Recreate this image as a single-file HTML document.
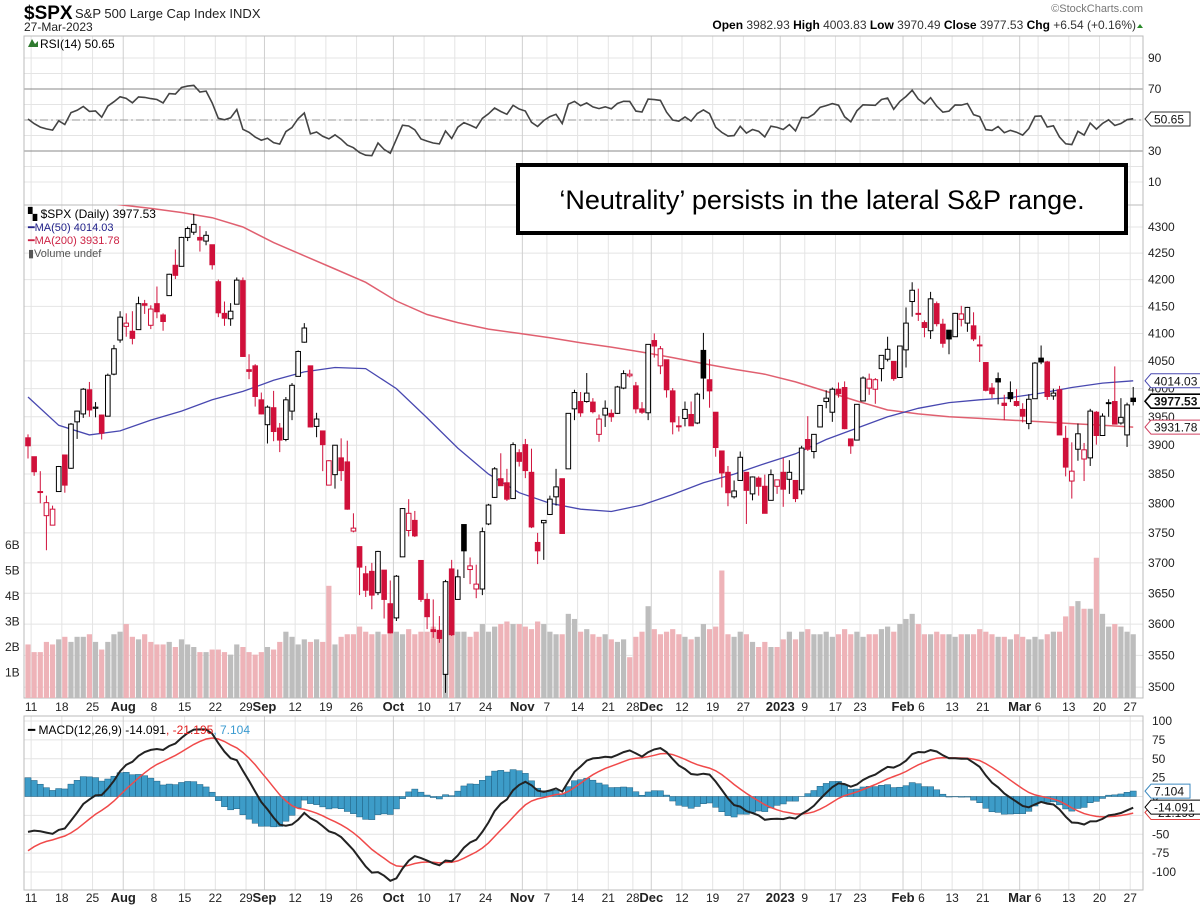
<!DOCTYPE html>
<html><head><meta charset="utf-8"><style>
body{margin:0;background:#fff;}
svg{display:block;font-family:"Liberation Sans",Arial,sans-serif;}
</style></head><body>
<svg id="chart" width="1200" height="911" viewBox="0 0 1200 911" xmlns="http://www.w3.org/2000/svg">
<defs>
<clipPath id="cpRsi"><rect x="24" y="36" width="1119" height="169"/></clipPath>
<clipPath id="cpPrice"><rect x="24" y="205" width="1119" height="493"/></clipPath>
<clipPath id="cpMacd"><rect x="24" y="716" width="1119" height="174"/></clipPath>
</defs>
<g id="grid"></g>
<g id="vol" clip-path="url(#cpPrice)"></g>
<g id="ma" clip-path="url(#cpPrice)"></g>
<g id="candles" clip-path="url(#cpPrice)"></g>
<g id="rsi" clip-path="url(#cpRsi)"></g>
<g id="macd" clip-path="url(#cpMacd)"></g>
<g id="axes"></g>

<text x="24" y="19" font-size="19" font-weight="bold">$SPX</text>
<text x="75" y="18" font-size="13" fill="#222">S&amp;P 500 Large Cap Index  INDX</text>
<text x="24" y="31" font-size="12" fill="#222">27-Mar-2023</text>
<text x="1143" y="12" font-size="11" fill="#777" text-anchor="end">©StockCharts.com</text>
<text x="1136" y="29" font-size="12" text-anchor="end" fill="#333"><tspan font-weight="bold" fill="#000">Open</tspan> 3982.93  <tspan font-weight="bold" fill="#000">High</tspan> 4003.83  <tspan font-weight="bold" fill="#000">Low</tspan> 3970.49  <tspan font-weight="bold" fill="#000">Close</tspan> 3977.53  <tspan font-weight="bold" fill="#000">Chg</tspan> +6.54 (+0.16%)</text>
<polygon points="1137,28 1143,28 1140,24" fill="#2a8a2a"/>

<text x="40" y="48" font-size="12">RSI(14) 50.65</text>
<polygon points="28,47 32,39 35,44 38,41 38,47" fill="#2f7a2f"/>
<text x="28" y="218" font-size="12">▚ $SPX (Daily) 3977.53</text>
<text x="28" y="231" font-size="11" fill="#22228a">━MA(50) 4014.03</text>
<text x="28" y="244" font-size="11" fill="#cc2244">━MA(200) 3931.78</text>
<text x="28" y="257" font-size="11" fill="#555">▮Volume undef</text>
<text x="28" y="734" font-size="12">━ MACD(12,26,9) -14.091<tspan fill="#e02020">, -21.195</tspan><tspan fill="#3a9ad0">, 7.104</tspan></text>

<rect x="518" y="165" width="608" height="68" fill="#fff" stroke="#000" stroke-width="4"/>
<text x="822" y="209" font-size="27" text-anchor="middle">‘Neutrality’ persists in the lateral S&amp;P range.</text>
</svg>
<script>
// ---------- data ----------
const opens = [3913,3880,3820,3779,3763,3820,3883,3860,3941,3955,3998,3965,3953,3951,4026,4088,
4113,4104,4107,4155,4115,4155,4134,4170,4227,4225,4280,4290,4280,4273,4266,4196,4137,4127,4154,4198,4034,4041,3980,
3936,3966,3930,3910,3960,4022,4084,4041,3933,3925,3831,3849,3878,3871,3753,3727,3682,3686,3651,3688,3633,
3610,3710,3754,3771,3704,3640,3591,3590,3520,3690,3640,3764,3689,3657,3657,3765,3810,3842,3835,3808,3887,
3901,3853,3734,3767,3781,3811,3842,3859,3964,3977,3977,3976,3919,3953,3956,3956,4001,4023,4005,3964,3957,
4087,4041,4052,3996,3934,3947,3954,3939,4069,4016,3958,3890,3853,3811,3839,3853,3816,3843,3829,3805,3829,
3853,3841,3839,3823,3910,3889,3932,3977,3958,3999,4002,3911,3909,3978,4001,3999,4036,4053,4049,4020,
4070,4159,4137,4120,4105,4155,4117,4106,4094,4126,4119,4114,4078,4047,4001,4018,3974,3993,3977,
3963,3938,3982,4055,4048,3987,3998,3912,3838,3893,3876,3878,3958,3917,3975,3977,3939,3918,3983];
const highs = [3919,3880,3855,3813,3796,3864,3883,3939,3961,4001,4012,3976,3954,4027,4079,4141,
4137,4141,4168,4162,4152,4187,4137,4211,4257,4281,4301,4325,4302,4292,4266,4200,4159,4156,4204,4204,4062,4044,3993,
3970,3996,3939,3985,4010,4069,4119,4041,3957,3925,3874,3900,3912,3908,3783,3727,3695,3700,3720,3688,3671,
3680,3792,3807,3787,3704,3650,3640,3613,3672,3705,3689,3764,3709,3697,3759,3799,3862,3886,3859,3905,3893,
3911,3894,3750,3771,3813,3859,3842,3956,3998,3994,4028,3983,3954,3979,3963,4005,4033,4034,4012,3976,4080,
4100,4077,4052,4001,3951,3977,3977,3993,4101,4053,3958,3890,3864,3839,3889,3853,3846,3846,3849,3858,3839,
3878,3874,3839,3899,3951,3919,3970,3997,4002,4011,4013,3911,3972,4022,4027,4019,4060,4094,4049,4077,
4148,4195,4183,4124,4177,4159,4127,4102,4138,4151,4149,4139,4096,4047,4010,4029,3989,4013,3999,
3974,3990,4048,4078,4050,4000,4005,3934,3905,3938,3904,3964,3960,3956,3981,4040,3983,3975,4003];
const lows = [3877,3847,3800,3721,3764,3820,3818,3859,3911,3948,3950,3949,3910,3951,4024,4083,
4094,4080,4107,4136,4108,4128,4105,4170,4201,4225,4273,4285,4253,4265,4219,4130,4114,4114,4154,4057,4017,3968,3954,
3903,3907,3888,3907,3944,4022,4083,3932,3914,3855,3838,3825,3838,3789,3751,3647,3644,3624,3647,3609,3585,
3605,3710,3744,3743,3636,3592,3578,3570,3491,3581,3640,3675,3665,3642,3647,3763,3809,3830,3804,3809,3863,
3843,3758,3698,3705,3780,3796,3749,3859,3944,3950,3975,3956,3906,3932,3941,3955,3999,4020,3956,3955,3944,
4056,4026,3984,3919,3924,3933,3934,3937,3981,3966,3880,3827,3795,3808,3839,3765,3805,3813,3783,3805,3816,
3794,3816,3802,3815,3890,3877,3932,3965,3941,3984,3928,3885,3909,3978,3989,3973,4013,4049,4014,4020,
4038,4131,4123,4093,4090,4113,4074,4062,4094,4113,4103,4086,4048,3995,3983,3972,3944,3976,3968,
3940,3928,3982,4044,3980,3980,3919,3846,3808,3873,3838,3864,3901,3917,3950,3937,3936,3897,3970];
const closes = [3899,3854,3819,3801,3790,3863,3831,3937,3960,3999,3962,3967,3921,4024,4072,4130,
4119,4091,4155,4152,4145,4140,4122,4210,4208,4280,4297,4305,4275,4284,4228,4138,4128,4141,4199,4058,4031,3986,3955,
3967,3924,3909,3980,4006,4067,4110,3932,3946,3901,3873,3900,3856,3790,3758,3693,3655,3647,3719,3640,3586,
3678,3791,3783,3745,3640,3612,3588,3577,3669,3583,3677,3720,3695,3665,3752,3797,3859,3830,3807,3901,3872,
3856,3760,3720,3771,3807,3828,3749,3956,3993,3957,3992,3959,3946,3965,3950,4003,4027,4026,3964,3958,4080,
4077,4072,3998,3941,3933,3963,3934,3990,4019,3996,3896,3852,3818,3821,3879,3822,3845,3829,3783,3849,3840,
3824,3853,3808,3895,3893,3919,3970,3983,3999,3991,3929,3899,3972,4019,4017,4016,4060,4071,4018,4077,
4119,4180,4136,4111,4164,4118,4082,4090,4137,4136,4148,4090,4079,3997,3991,4012,3970,3982,3970,
3951,3981,4046,4048,3986,3992,3918,3862,3855,3920,3892,3960,3917,3951,3975,3937,3949,3971,3977];
const volumesB = [2.1,1.8,1.8,2.2,2.1,2.3,2.4,2.2,2.4,2.4,2.5,2.2,1.9,2.2,2.5,2.6,
2.9,2.4,2.3,2.5,2.2,2.1,2.1,2.2,2.0,2.3,2.1,2.0,1.8,1.8,1.9,1.9,1.8,1.7,2.1,2.0,1.8,1.7,1.8,
2.0,1.9,2.2,2.6,2.4,2.1,2.3,2.2,2.3,2.2,4.4,2.1,2.4,2.5,2.5,2.8,2.6,2.5,2.6,2.5,2.9,
2.6,2.5,2.7,2.5,2.6,2.6,2.8,2.5,3.2,2.5,2.6,2.6,2.4,2.6,2.9,2.6,2.8,2.9,3.0,2.9,2.9,
2.8,2.7,3.0,2.9,2.6,2.5,2.5,3.3,3.1,2.6,2.7,2.5,2.4,2.5,2.3,2.2,2.3,1.6,2.4,2.6,3.6,
2.7,2.5,2.6,2.7,2.5,2.4,2.3,2.4,2.9,2.7,2.8,5.0,2.5,2.4,2.6,2.5,2.2,2.0,2.2,2.0,2.0,
2.3,2.6,2.3,2.6,2.7,2.5,2.5,2.6,2.4,2.5,2.7,2.5,2.6,2.4,2.5,2.5,2.7,2.8,2.6,2.9,
3.1,3.3,2.9,2.5,2.5,2.6,2.5,2.5,2.4,2.5,2.5,2.5,2.7,2.6,2.5,2.4,2.4,2.3,2.5,
2.4,2.3,2.4,2.3,2.5,2.6,2.6,3.2,3.6,3.8,3.5,3.5,5.5,3.3,2.8,2.9,2.8,2.6,2.5];
// moving averages sampled every 5 bars
const ma50 = [3985,3935,3918,3925,3944,3960,3980,3995,4015,4030,4038,4036,4000,3948,3895,3850,3818,3800,3790,3786,3797,3815,3835,3850,3868,3885,3910,3930,3950,3965,3975,3980,3984,3992,4002,4010,4014.03];
const ma200 = [4370,4360,4352,4343,4336,4328,4318,4300,4270,4245,4220,4195,4160,4135,4120,4108,4100,4092,4083,4075,4066,4056,4045,4035,4026,4012,3995,3978,3962,3955,3950,3947,3944,3941,3938,3935,3931.78];
// indicator seeds (state before first bar)
const prevClose = 3902;
const rsiSeedGain = 30, rsiSeedLoss = 29;
const emaSeed12 = 3872, emaSeed26 = 3925, signalSeed = -78;
// axis ticks / labels
const xLabels = ["11","18","25","Aug","8","15","22","29","Sep","12","19","26","Oct","10","17","24","Nov","7","14","21","28","Dec","12","19","27","2023","9","17","23","Feb","6","13","21","Mar","6","13","20","27"];
const xLabelBars = [1,6,11,16,21,26,31,36,39,44,49,54,60,65,70,75,81,85,90,95,99,102,107,112,117,123,127,132,136,143,146,151,156,162,165,170,175,180];
const priceTicks = [4300,4250,4200,4150,4100,4050,4000,3950,3900,3850,3800,3750,3700,3650,3600,3550,3500];
const volTicks = [1,2,3,4,5,6];
const rsiTicks = [90,70,30,10];
const macdTicks = [100,75,50,25,0,-25,-50,-75,-100];

// ---------- scales ----------
const L=24, R=1143;
const xB = i => 28 + i*6.14;
const yP = p => 227 + 2235*Math.log(4300/p);
const yV = v => 698 - v*25.5;
const yR = v => 120 - (v-50)*1.55;
const yM = v => 796.5 - v*0.755;
const NS="http://www.w3.org/2000/svg";
function mk(tag, attrs, parent){const e=document.createElementNS(NS,tag);for(const k in attrs)e.setAttribute(k,attrs[k]);parent.appendChild(e);return e;}
const G=id=>document.getElementById(id);

// ---------- grid ----------
const grid=G('grid');
for(let v=10; v<=90; v+=10){ const l=mk('line',{x1:L,x2:R,y1:yR(v),y2:yR(v),stroke:'#e4e4e4'},grid);   }
priceTicks.forEach(p=>{ const l=mk('line',{x1:L,x2:R,y1:yP(p),y2:yP(p),stroke:'#e4e4e4'},grid);   });
macdTicks.forEach(v=>{ const l=mk('line',{x1:L,x2:R,y1:yM(v),y2:yM(v),stroke:'#e4e4e4'},grid);   });
xLabelBars.forEach((b,k)=>{
  const major=isNaN(+xLabels[k]) || xLabels[k]==="2023";
  const c=major?'#cfcfcf':'#e4e4e4';
  [[36,698],[716,890]].forEach(([a,z])=>{ const l=mk('line',{x1:xB(b)-3,x2:xB(b)-3,y1:a,y2:z,stroke:c},grid);   });
});
// RSI reference lines
[[70,'#888',''],[30,'#888',''],[50,'#999','8,3,2,3']].forEach(([v,c,d])=>{ const l=mk('line',{x1:L,x2:R,y1:yR(v),y2:yR(v),stroke:c,'stroke-dasharray':d},grid);   });
// panel borders
[[36,205],[205,698],[716,890]].forEach(([a,z])=>{ const r=mk('rect',{x:L,y:a,width:R-L,height:z-a,fill:'none',stroke:'#bbb'},grid);   });

// ---------- volume ----------
const vol=G('vol');
volumesB.forEach((v,i)=>{
  const pc=i?closes[i-1]:prevClose;
  const r=mk('rect',{x:xB(i)-2.6,y:yV(v),width:5.2,height:698-yV(v),fill:closes[i]<pc?'#eeb3b8':'#bdbdbd'},vol);
   
});

// ---------- MAs ----------
const ma=G('ma');
function maPath(arr){return arr.map((v,k)=>(k?'L':'M')+xB(Math.min(k*5,180)).toFixed(1)+','+yP(v).toFixed(1)).join('');}
const p200=mk('path',{d:maPath(ma200),fill:'none',stroke:'#e06070','stroke-width':1.5},ma);
 
const p50=mk('path',{d:maPath(ma50),fill:'none',stroke:'#4848b0','stroke-width':1.3},ma);
 

// ---------- candles ----------
const cg=G('candles');
closes.forEach((c,i)=>{
  const o=opens[i], pc=i?closes[i-1]:prevClose;
  const col=c<pc?'#d0103a':'#000';
  const x=xB(i);
  const w=mk('line',{x1:x,x2:x,y1:yP(highs[i]),y2:yP(lows[i]),stroke:col,'stroke-width':1},cg);
   
  const top=yP(Math.max(o,c)), bot=yP(Math.min(o,c));
  const b=mk('rect',{x:x-2.3,y:top,width:4.6,height:Math.max(1,bot-top),fill:c<o?col:'#fff',stroke:col,'stroke-width':1},cg);
   
});

// ---------- RSI ----------
let ag=rsiSeedGain, al=rsiSeedLoss; const rsiVals=[];
closes.forEach((c,i)=>{const d=c-(i?closes[i-1]:prevClose);ag=(ag*13+Math.max(d,0))/14;al=(al*13+Math.max(-d,0))/14;rsiVals.push(100-100/(1+ag/al));});
const rp=mk('path',{d:rsiVals.map((v,i)=>(i?'L':'M')+xB(i).toFixed(1)+','+yR(v).toFixed(1)).join(''),fill:'none',stroke:'#444','stroke-width':1.6},G('rsi'));
 

// ---------- MACD ----------
let e12=emaSeed12,e26=emaSeed26,sg=signalSeed; const mv=[],sv=[];
closes.forEach(c=>{e12+=(c-e12)*2/13;e26+=(c-e26)*2/27;const m=e12-e26;sg+=(m-sg)*0.2;mv.push(m);sv.push(sg);});
const mg=G('macd');
mv.forEach((m,i)=>{const h=m-sv[i];const y0=yM(0),y1=yM(h);
  const r=mk('rect',{x:xB(i)-3.07,y:Math.min(y0,y1),width:6.14,height:Math.abs(y1-y0),fill:'#3d9cc8',stroke:'#1f5f80','stroke-width':0.5},mg);
   });
const sl=mk('path',{d:sv.map((v,i)=>(i?'L':'M')+xB(i).toFixed(1)+','+yM(v).toFixed(1)).join(''),fill:'none',stroke:'#f04a4a','stroke-width':1.5},mg);
 
const ml=mk('path',{d:mv.map((v,i)=>(i?'L':'M')+xB(i).toFixed(1)+','+yM(v).toFixed(1)).join(''),fill:'none',stroke:'#222','stroke-width':2},mg);
 

// ---------- axes labels ----------
const ax=G('axes');
function txt(x,y,s,attrs){const t=mk('text',Object.assign({x:x,y:y,'font-size':12,fill:'#222'},attrs||{}),ax);t.textContent=s;return t;}
rsiTicks.forEach(v=>{const t=txt(1148,yR(v)+4,String(v));});
priceTicks.forEach(p=>{const t=txt(1148,yP(p)+4,String(p));});
volTicks.forEach(v=>{const t=txt(5,yV(v)+4,v+'B');});
macdTicks.forEach(v=>{const t=txt(1152,yM(v)+4,String(v));});
[711,902].forEach(y=>{xLabels.forEach((s,k)=>{const major=isNaN(+s)||s==="2023";
  const t=txt(xB(xLabelBars[k])-3,y,s,{'text-anchor':'middle','font-weight':major?'bold':'normal','font-size':major?13:12});
  });});

// ---------- value tags ----------
function tag(y,s,stroke,bold){
  const g=mk('g',{},ax);
   
  const w=s.length*6.6+6;
  mk('polygon',{points:`1145,${y} 1151,${y-7} ${1151+w},${y-7} ${1151+w},${y+7} 1151,${y+7}`,fill:'#fff',stroke:stroke,'stroke-width':bold?1.6:1},g);
  const t=mk('text',{x:1154,y:y+4.5,'font-size':12,'font-weight':bold?'bold':'normal',fill:'#111'},g);t.textContent=s;
}
tag(yR(50.65),'50.65','#333',false);
tag(yP(4014.03),'4014.03','#4848b0',false);
tag(yP(3931.78),'3931.78','#d04060',false);
tag(yP(3977.53),'3977.53','#000',true);
tag(yM(-21.195),'-21.195','#e04040',false);
tag(yM(-14.091),'-14.091','#000',false);
tag(yM(7.104),'7.104','#3d8ac0',false);
</script>
</body></html>
